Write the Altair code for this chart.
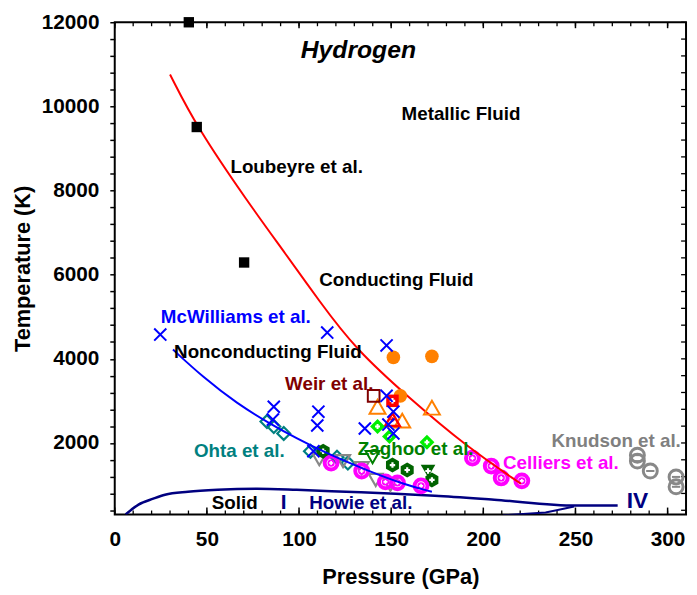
import altair as alt
import pandas as pd

# ---------------- data ----------------
loubeyre_p = [40.2, 44.5, 70.2]
loubeyre_t = [12000, 9510, 6290]

red_p = [30.0, 44.5, 71.8, 93.3, 110.5, 130.8, 160.3, 189.8, 220.4]
red_t = [10760, 9510, 7750, 6460, 5400, 4220, 3050, 1950, 1030]

blue_p = [31.6, 47.7, 66.5, 84.2, 98.7, 114.7, 136.2, 157.6, 172.1]
blue_t = [4220, 3570, 2930, 2460, 2110, 1760, 1360, 1005, 840]

melt_p = [5.9, 12.9, 20.9, 27.3, 39.7, 55.8, 77.2, 98.7, 125.5, 152.3, 173.7, 205.9, 250.4, 272.9]
melt_t = [300, 535, 676, 770, 840, 887, 911, 887, 840, 793, 746, 652, 511, 511]

b34_p = [210.7, 233.8, 249.3]
b34_t = [280, 347, 488]

mcw_p = [24.7, 115.3, 147.5, 86.3, 85.8, 110.5, 109.9, 107.8, 135.7, 147.5, 151.2, 148.5, 151.2]
mcw_t = [4577, 4623, 4318, 2861, 2556, 2744, 2415, 1804, 2344, 3120, 2744, 2438, 2227]

orange_c_p = [151.2, 172.1, 155.0]
orange_c_t = [4036, 4059, 3120]

orange_tri_p = [142.6, 172.1, 156.0]
orange_tri_t = [2861, 2838, 2532]

weir_p = [140.5]
weir_t = [3120]

red_sq_p = [150.7]
red_sq_t = [3002]

red_tri_p = [150.7]
red_tri_t = [2556]

lime_p = [142.6, 149.1, 169.4]
lime_t = [2391, 2156, 2015]

zag_hex_p = [113.1, 150.7, 158.7, 172.1]
zag_hex_t = [1804, 1475, 1357, 1122]

zag_tri_p = [170.0]
zag_tri_t = [1334]

zag_otri_p = [139.9]
zag_otri_t = [1663]

ohta_p = [82.6, 86.3, 91.7, 106.2, 120.6, 126.5]
ohta_t = [2509, 2391, 2227, 1804, 1663, 1522]

gray_tri_p = [111.0, 123.9, 134.0, 141.6, 149.6]
gray_tri_t = [1616, 1569, 1404, 1122, 1005]

cel_p = [117.4, 134.0, 146.9, 153.4, 166.2, 194.1, 204.3, 209.7, 220.9]
cel_t = [1522, 1334, 1075, 1052, 981, 1639, 1451, 1169, 1099]

knud_p = [283.6, 283.6, 290.6, 304.6, 304.6]
knud_t = [1710, 1569, 1334, 1193, 958]

label_text = ["Metallic Fluid", "Loubeyre et al.", "Conducting Fluid", "McWilliams  et al.",
              "Nonconducting Fluid", "Weir et al.", "Ohta et al.", "Zaghoo et al.",
              "Knudson et al.", "Celliers et al.", "Solid", "I", "Howie  et al.", "IV"]
label_p = [187.9, 98.7, 152.8, 65.7, 83.1, 116.4, 67.6, 163.3, 272.1, 242.1, 65.1, 91.7, 133.5, 283.6]
label_t = [9816, 8547, 5869, 4999, 4153, 3402, 1804, 1851, 2039, 1522, 582, 582, 582, 629]
label_color = ["#000000", "#000000", "#000000", "#0000ff", "#000000", "#800000", "#008080",
               "#008000", "#808080", "#ff00ff", "#000000", "#000080", "#000080", "#000080"]
label_size = [19, 19, 19, 19, 19, 19, 19, 19, 19, 19, 19, 21, 19, 23]

title_text = ["Hydrogen"]
title_p = [132.2]
title_t = [11343]

x_labels = [0, 50, 100, 150, 200, 250, 300]
x_ticks = list(range(0, 311, 10))
y_ticks = list(range(400, 12001, 400))

# ---------------- scales / axes ----------------
FONT = "Liberation Sans"
xs = alt.Scale(domain=[0, 310], nice=False, zero=False)
ys = alt.Scale(domain=[300, 12000], nice=False, zero=False)
xax = alt.Axis(title="Pressure (GPa)", values=x_labels, ticks=False, tickSize=0, domain=False,
               grid=False, labelFont=FONT, labelFontSize=21, labelFontWeight="bold",
               labelColor="black", labelPadding=14, titleFont=FONT, titleFontSize=22,
               titleFontWeight="bold", titleColor="black", titlePadding=18, labelFlush=False)
yax = alt.Axis(title="Temperature (K)", values=y_ticks, tickSize=5, tickColor="black",
               tickWidth=1.5, domain=False, grid=False,
               labelExpr="datum.value % 2000 == 0 ? format(datum.value, 'd') : ''",
               labelOverlap=False, labelFont=FONT, labelFontSize=21, labelFontWeight="bold",
               labelColor="black", labelPadding=11, titleFont=FONT, titleFontSize=22,
               titleFontWeight="bold", titleColor="black", titlePadding=7, labelFlush=False)


def X(f="p"):
    return alt.X(f"{f}:Q", scale=xs, axis=xax)


def Y(f="t"):
    return alt.Y(f"{f}:Q", scale=ys, axis=yax)


def df(p, t):
    return pd.DataFrame({"p": p, "t": t})


def pts(p, t, **kw):
    return alt.Chart(df(p, t)).mark_point(**kw).encode(x=X(), y=Y())


XPATH = "M-1,-1L1,1M-1,1L1,-1"
HEX = "M0,-1L0.866,-0.5L0.866,0.5L0,1L-0.866,0.5L-0.866,-0.5Z"

layers = []

# tick marks (inward) on bottom, top, right
tx = pd.DataFrame({"v": x_ticks})
tx_major = pd.DataFrame({"v": x_labels})
ty = pd.DataFrame({"v": y_ticks})
layers.append(alt.Chart(tx).mark_rule(color="black", strokeWidth=1.3).encode(
    x=X("v"), y=alt.value(498), y2=alt.value(494)))
layers.append(alt.Chart(tx_major).mark_rule(color="black", strokeWidth=1.5).encode(
    x=X("v"), y=alt.value(498), y2=alt.value(491)))
layers.append(alt.Chart(tx).mark_rule(color="black", strokeWidth=1.3).encode(
    x=X("v"), y=alt.value(0), y2=alt.value(4)))
layers.append(alt.Chart(tx_major).mark_rule(color="black", strokeWidth=1.5).encode(
    x=X("v"), y=alt.value(0), y2=alt.value(6)))
layers.append(alt.Chart(ty).mark_rule(color="black", strokeWidth=1.3).encode(
    y=Y("v"), x=alt.value(578), x2=alt.value(573)))

# curves
layers.append(alt.Chart(df(melt_p, melt_t)).mark_line(color="#000080", strokeWidth=2.5,
              interpolate="monotone", clip=True).encode(x=X(), y=Y()))
layers.append(alt.Chart(df(b34_p, b34_t)).mark_line(color="#000080", strokeWidth=2,
              clip=True).encode(x=X(), y=Y()))

# points
layers.append(pts(ohta_p, ohta_t, shape="diamond", size=170, filled=False, color="#008080",
                  strokeWidth=2.2, opacity=1))
layers.append(pts(gray_tri_p, gray_tri_t, shape="triangle-down", size=200, filled=False,
                  color="#888888", strokeWidth=2.2, opacity=1))
layers.append(pts(zag_hex_p, zag_hex_t, shape=HEX, size=230, filled=True, color="#006400", opacity=1))
layers.append(pts(zag_hex_p, zag_hex_t, shape="cross", size=30, filled=True, color="white", opacity=1))
layers.append(pts(zag_tri_p, zag_tri_t, shape="triangle-down", size=220, filled=True,
                  color="#006400", opacity=1))
layers.append(pts(zag_tri_p, zag_tri_t, shape="cross", size=30, filled=True, color="white", opacity=1))
layers.append(pts(zag_otri_p, zag_otri_t, shape="triangle-down", size=200, filled=False,
                  color="#008000", strokeWidth=2, opacity=1))
layers.append(pts(cel_p, cel_t, shape="circle", size=170, filled=False, color="#ff00ff",
                  strokeWidth=4, opacity=1))
layers.append(pts(cel_p, cel_t, shape="circle", size=55, filled=True, color="#ff00ff", opacity=1))
layers.append(pts(cel_p, cel_t, shape="cross", size=16, filled=True, color="white", opacity=1))

layers.append(alt.Chart(df(red_p, red_t)).mark_line(color="#ff0000", strokeWidth=2,
              interpolate="basis").encode(x=X(), y=Y()))
layers.append(alt.Chart(df(blue_p, blue_t)).mark_line(color="#0000ff", strokeWidth=2,
              interpolate="basis").encode(x=X(), y=Y()))

layers.append(pts(orange_c_p, orange_c_t, shape="circle", size=190, filled=True,
                  color="#ff8000", opacity=1))
layers.append(pts(orange_tri_p, orange_tri_t, shape="triangle-up", size=260, filled=False,
                  color="#ff8000", strokeWidth=2, opacity=1))
layers.append(pts(weir_p, weir_t, shape="square", size=140, filled=False, color="#800000",
                  strokeWidth=2, opacity=1))
layers.append(pts(red_sq_p, red_sq_t, shape="square", size=160, filled=True, color="#ff0000", opacity=1))
layers.append(pts(red_sq_p, red_sq_t, shape="cross", size=30, filled=True, color="white", opacity=1))
layers.append(pts(red_tri_p, red_tri_t, shape="triangle-up", size=220, filled=False,
                  color="#ff0000", strokeWidth=2.5, opacity=1))
layers.append(pts(red_tri_p, red_tri_t, shape="cross", size=20, filled=True, color="#ff0000", opacity=1))
layers.append(pts(lime_p, lime_t, shape="diamond", size=230, filled=True, color="#00ee00", opacity=1))
layers.append(pts(lime_p, lime_t, shape="cross", size=25, filled=True, color="white", opacity=1))
layers.append(pts(mcw_p, mcw_t, shape=XPATH, size=150, filled=False, color="#0000ff",
                  strokeWidth=2, opacity=1))
layers.append(pts(knud_p, knud_t, shape="circle", size=200, filled=False, color="#888888",
                  strokeWidth=3, opacity=1))
layers.append(pts(knud_p, knud_t, shape="stroke", size=70, filled=False, color="#888888",
                  strokeWidth=2, opacity=1))
layers.append(pts(loubeyre_p, loubeyre_t, shape="square", size=110, filled=True,
                  color="black", opacity=1))

# text labels
lab = pd.DataFrame({"p": label_p, "t": label_t, "txt": label_text, "c": label_color,
                    "fs": label_size})
layers.append(alt.Chart(lab).mark_text(font=FONT, fontWeight="bold", align="center",
              baseline="middle").encode(
    x=X(), y=Y(), text="txt:N", color=alt.Color("c:N", scale=None),
    size=alt.Size("fs:Q", scale=None)))
tdf = pd.DataFrame({"p": title_p, "t": title_t, "txt": title_text})
layers.append(alt.Chart(tdf).mark_text(font=FONT, fontWeight="bold", fontStyle="italic",
              fontSize=25, align="center", baseline="middle", color="black").encode(
    x=X(), y=Y(), text="txt:N"))

chart = alt.layer(*layers).properties(
    width=578, height=498,
    autosize=alt.AutoSizeParams(type="none"),
    padding={"left": 108, "top": 11, "right": 3, "bottom": 76},
    background="white",
).configure_view(stroke="black", strokeWidth=2)

chart.save("out.html", embed_options={"renderer": "svg", "actions": False})
